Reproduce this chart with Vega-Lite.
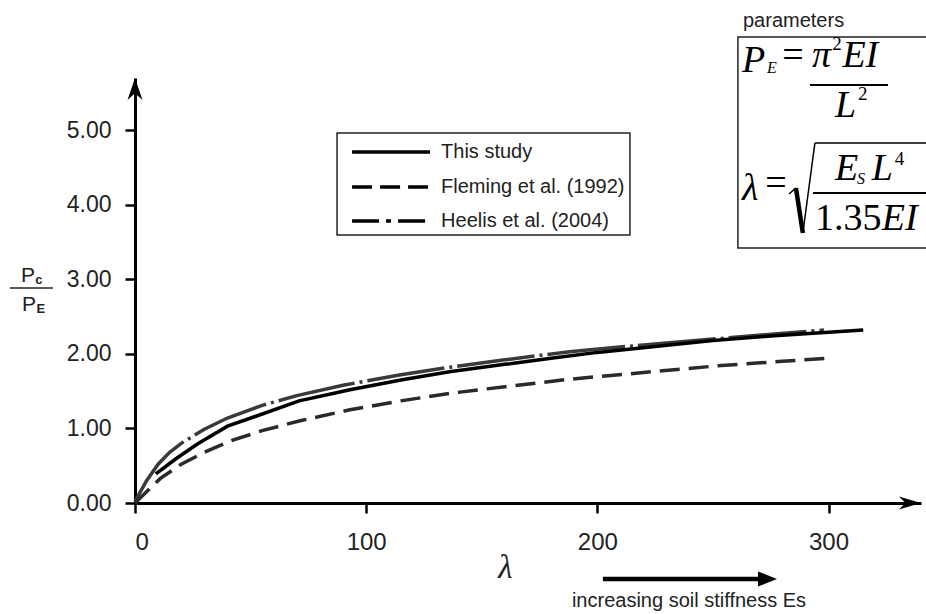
{
  "$schema": "https://vega.github.io/schema/vega-lite/v6.json",
  "width": 786,
  "height": 425,
  "autosize": {"type": "none"},
  "padding": {"left": 135, "top": 78, "right": 5, "bottom": 111},
  "background": "white",
  "config": {
    "view": {"stroke": null},
    "axis": {"grid": false, "domainColor": "#000", "domainWidth": 3, "tickColor": "#000", "tickWidth": 2.5, "tickSize": 10, "labelFont": "Liberation Sans", "labelColor": "#222"}
  },
  "datasets": {
    "curves": [
      {"series": "Heelis et al. (2004)", "lambda": 0, "ratio": 0.02},
      {"series": "Heelis et al. (2004)", "lambda": 5, "ratio": 0.3},
      {"series": "Heelis et al. (2004)", "lambda": 10, "ratio": 0.52},
      {"series": "Heelis et al. (2004)", "lambda": 15, "ratio": 0.68},
      {"series": "Heelis et al. (2004)", "lambda": 20, "ratio": 0.8},
      {"series": "Heelis et al. (2004)", "lambda": 30, "ratio": 0.99},
      {"series": "Heelis et al. (2004)", "lambda": 40, "ratio": 1.14},
      {"series": "Heelis et al. (2004)", "lambda": 55, "ratio": 1.31},
      {"series": "Heelis et al. (2004)", "lambda": 70, "ratio": 1.44},
      {"series": "Heelis et al. (2004)", "lambda": 90, "ratio": 1.58},
      {"series": "Heelis et al. (2004)", "lambda": 115, "ratio": 1.72},
      {"series": "Heelis et al. (2004)", "lambda": 136, "ratio": 1.82},
      {"series": "Heelis et al. (2004)", "lambda": 160, "ratio": 1.92},
      {"series": "Heelis et al. (2004)", "lambda": 188, "ratio": 2.03},
      {"series": "Heelis et al. (2004)", "lambda": 220, "ratio": 2.12},
      {"series": "Heelis et al. (2004)", "lambda": 258, "ratio": 2.22},
      {"series": "Heelis et al. (2004)", "lambda": 298, "ratio": 2.32},
      {"series": "Fleming et al. (1992)", "lambda": 0, "ratio": 0.0},
      {"series": "Fleming et al. (1992)", "lambda": 5, "ratio": 0.15},
      {"series": "Fleming et al. (1992)", "lambda": 11, "ratio": 0.33},
      {"series": "Fleming et al. (1992)", "lambda": 20, "ratio": 0.52},
      {"series": "Fleming et al. (1992)", "lambda": 30, "ratio": 0.68},
      {"series": "Fleming et al. (1992)", "lambda": 42, "ratio": 0.84},
      {"series": "Fleming et al. (1992)", "lambda": 55, "ratio": 0.97},
      {"series": "Fleming et al. (1992)", "lambda": 71, "ratio": 1.1},
      {"series": "Fleming et al. (1992)", "lambda": 93, "ratio": 1.25},
      {"series": "Fleming et al. (1992)", "lambda": 115, "ratio": 1.37},
      {"series": "Fleming et al. (1992)", "lambda": 136, "ratio": 1.47},
      {"series": "Fleming et al. (1992)", "lambda": 160, "ratio": 1.56},
      {"series": "Fleming et al. (1992)", "lambda": 188, "ratio": 1.66},
      {"series": "Fleming et al. (1992)", "lambda": 220, "ratio": 1.75},
      {"series": "Fleming et al. (1992)", "lambda": 252, "ratio": 1.84},
      {"series": "Fleming et al. (1992)", "lambda": 280, "ratio": 1.9},
      {"series": "Fleming et al. (1992)", "lambda": 299, "ratio": 1.94},
      {"series": "This study", "lambda": 9, "ratio": 0.39},
      {"series": "This study", "lambda": 18, "ratio": 0.6},
      {"series": "This study", "lambda": 27, "ratio": 0.79},
      {"series": "This study", "lambda": 40, "ratio": 1.03},
      {"series": "This study", "lambda": 52, "ratio": 1.16},
      {"series": "This study", "lambda": 71, "ratio": 1.37},
      {"series": "This study", "lambda": 93, "ratio": 1.52},
      {"series": "This study", "lambda": 115, "ratio": 1.65},
      {"series": "This study", "lambda": 136, "ratio": 1.76},
      {"series": "This study", "lambda": 160, "ratio": 1.86},
      {"series": "This study", "lambda": 180, "ratio": 1.94},
      {"series": "This study", "lambda": 200, "ratio": 2.02},
      {"series": "This study", "lambda": 225, "ratio": 2.1},
      {"series": "This study", "lambda": 250, "ratio": 2.18},
      {"series": "This study", "lambda": 275, "ratio": 2.24},
      {"series": "This study", "lambda": 300, "ratio": 2.29},
      {"series": "This study", "lambda": 315, "ratio": 2.32}
    ]
  },
  "layer": [
    {
      "data": {"name": "curves"},
      "transform": [{"filter": "datum.series === 'Heelis et al. (2004)'"}],
      "mark": {"type": "line", "color": "#3a3a3a", "strokeWidth": 3.5, "strokeDash": [78, 5, 3, 5]},
      "encoding": {
        "x": {"field": "lambda", "type": "quantitative", "scale": {"domain": [0, 340], "nice": false, "zero": true},
          "axis": {"values": [0, 100, 200, 300], "labelFontSize": 24, "labelPadding": 17, "title": "λ", "titleFont": "Liberation Serif", "titleFontStyle": "italic", "titleFontWeight": "normal", "titleFontSize": 33, "titleColor": "#222", "titleX": 370, "titleY": 74, "titleBaseline": "alphabetic", "titleAlign": "center"}},
        "y": {"field": "ratio", "type": "quantitative", "scale": {"domain": [0, 5.7], "nice": false},
          "axis": {"values": [0, 1, 2, 3, 4, 5], "format": ".2f", "labelFontSize": 23, "labelPadding": 14, "title": null}}
      }
    },
    {
      "data": {"name": "curves"},
      "transform": [{"filter": "datum.series === 'Fleming et al. (1992)'"}],
      "mark": {"type": "line", "color": "#2a2a2a", "strokeWidth": 3.5, "strokeDash": [20, 9]},
      "encoding": {
        "x": {"field": "lambda", "type": "quantitative"},
        "y": {"field": "ratio", "type": "quantitative"}
      }
    },
    {
      "data": {"name": "curves"},
      "transform": [{"filter": "datum.series === 'This study'"}],
      "mark": {"type": "line", "color": "#000", "strokeWidth": 3.5},
      "encoding": {
        "x": {"field": "lambda", "type": "quantitative"},
        "y": {"field": "ratio", "type": "quantitative"}
      }
    },
    {
      "data": {"values": [{}]},
      "mark": {"type": "point", "shape": "M1,0L-1,-0.6L-0.4,0L-1,0.6Z", "size": 484, "filled": true, "color": "#000", "opacity": 1},
      "encoding": {"x": {"datum": 335.2}, "y": {"datum": 0}}
    },
    {
      "data": {"values": [{}]},
      "mark": {"type": "point", "shape": "M0,-1L-0.68,1L0,0.4L0.68,1Z", "size": 484, "filled": true, "color": "#000", "opacity": 1},
      "encoding": {"x": {"datum": 0}, "y": {"datum": 5.553}}
    },
    {
      "data": {"values": [{}]},
      "mark": {"type": "text", "text": "P", "font": "Liberation Sans", "fontSize": 21, "align": "left", "baseline": "alphabetic", "color": "#222"},
      "encoding": {"x": {"datum": -49.3}, "y": {"datum": 2.964}}
    },
    {
      "data": {"values": [{}]},
      "mark": {"type": "text", "text": "c", "font": "Liberation Sans", "fontSize": 13, "fontWeight": "bold", "align": "left", "baseline": "alphabetic", "color": "#222"},
      "encoding": {"x": {"datum": -43.2}, "y": {"datum": 2.937}}
    },
    {
      "data": {"values": [{}]},
      "mark": {"type": "rule", "color": "#222", "strokeWidth": 1.5},
      "encoding": {"x": {"datum": -54.07}, "x2": {"datum": -35.47}, "y": {"datum": 2.884}}
    },
    {
      "data": {"values": [{}]},
      "mark": {"type": "text", "text": "P", "font": "Liberation Sans", "fontSize": 21, "align": "left", "baseline": "alphabetic", "color": "#222"},
      "encoding": {"x": {"datum": -48.9}, "y": {"datum": 2.575}}
    },
    {
      "data": {"values": [{}]},
      "mark": {"type": "text", "text": "E", "font": "Liberation Sans", "fontSize": 13, "fontWeight": "bold", "align": "left", "baseline": "alphabetic", "color": "#222"},
      "encoding": {"x": {"datum": -42.6}, "y": {"datum": 2.548}}
    },
    {
      "data": {"values": [{}]},
      "mark": {"type": "rect", "fill": "white", "stroke": "#222", "strokeWidth": 1.5},
      "encoding": {"x": {"datum": 87.4}, "x2": {"datum": 214.1}, "y": {"datum": 4.962}, "y2": {"datum": 3.594}}
    },
    {
      "data": {"values": [{}]},
      "mark": {"type": "rule", "color": "#000", "strokeWidth": 3.5},
      "encoding": {"x": {"datum": 93.9}, "x2": {"datum": 127.6}, "y": {"datum": 4.708}}
    },
    {
      "data": {"values": [{}]},
      "mark": {"type": "rule", "color": "#000", "strokeWidth": 3.5, "strokeDash": [20, 8]},
      "encoding": {"x": {"datum": 93.9}, "x2": {"datum": 127.6}, "y": {"datum": 4.238}}
    },
    {
      "data": {"values": [{}]},
      "mark": {"type": "rule", "color": "#000", "strokeWidth": 3.5, "strokeDash": [27, 7, 5, 7]},
      "encoding": {"x": {"datum": 93.9}, "x2": {"datum": 127.6}, "y": {"datum": 3.782}}
    },
    {
      "data": {"values": [{}]},
      "mark": {"type": "text", "text": "This study", "font": "Liberation Sans", "fontSize": 20, "align": "left", "baseline": "middle", "color": "#222"},
      "encoding": {"x": {"datum": 132.4}, "y": {"datum": 4.708}}
    },
    {
      "data": {"values": [{}]},
      "mark": {"type": "text", "text": "Fleming et al. (1992)", "font": "Liberation Sans", "fontSize": 20, "align": "left", "baseline": "middle", "color": "#222"},
      "encoding": {"x": {"datum": 132.4}, "y": {"datum": 4.238}}
    },
    {
      "data": {"values": [{}]},
      "mark": {"type": "text", "text": "Heelis et al. (2004)", "font": "Liberation Sans", "fontSize": 20, "align": "left", "baseline": "middle", "color": "#222"},
      "encoding": {"x": {"datum": 132.4}, "y": {"datum": 3.782}}
    },
    {
      "data": {"values": [{}]},
      "mark": {"type": "text", "text": "parameters", "font": "Liberation Sans", "fontSize": 20, "align": "left", "baseline": "alphabetic", "color": "#222"},
      "encoding": {"x": {"datum": 263.0}, "y": {"datum": 6.384}}
    },
    {
      "data": {"values": [{}]},
      "mark": {"type": "rect", "fill": "white", "stroke": "#222", "strokeWidth": 1.5},
      "encoding": {"x": {"datum": 260.8}, "x2": {"datum": 348.2}, "y": {"datum": 6.25}, "y2": {"datum": 3.42}}
    },
    {
      "data": {"values": [{}]},
      "mark": {"type": "text", "text": "P", "font": "Liberation Serif", "fontStyle": "italic", "fontSize": 38, "align": "left", "baseline": "alphabetic", "color": "#000"},
      "encoding": {"x": {"datum": 262.6}, "y": {"datum": 5.781}}
    },
    {
      "data": {"values": [{}]},
      "mark": {"type": "text", "text": "E", "font": "Liberation Serif", "fontStyle": "italic", "fontSize": 16, "align": "left", "baseline": "alphabetic", "color": "#000"},
      "encoding": {"x": {"datum": 273.4}, "y": {"datum": 5.767}}
    },
    {
      "data": {"values": [{}]},
      "mark": {"type": "text", "text": "=", "font": "Liberation Serif", "fontSize": 38, "align": "center", "baseline": "alphabetic", "color": "#000"},
      "encoding": {"x": {"datum": 284.6}, "y": {"datum": 5.848}}
    },
    {
      "data": {"values": [{}]},
      "mark": {"type": "text", "text": "π", "font": "Liberation Serif", "fontStyle": "italic", "fontSize": 38, "align": "left", "baseline": "alphabetic", "color": "#000"},
      "encoding": {"x": {"datum": 292.8}, "y": {"datum": 5.848}}
    },
    {
      "data": {"values": [{}]},
      "mark": {"type": "text", "text": "2", "font": "Liberation Serif", "fontSize": 19, "align": "left", "baseline": "alphabetic", "color": "#000"},
      "encoding": {"x": {"datum": 301.6}, "y": {"datum": 6.076}}
    },
    {
      "data": {"values": [{}]},
      "mark": {"type": "text", "text": "EI", "font": "Liberation Serif", "fontStyle": "italic", "fontSize": 38, "align": "left", "baseline": "alphabetic", "color": "#000"},
      "encoding": {"x": {"datum": 306.0}, "y": {"datum": 5.848}}
    },
    {
      "data": {"values": [{}]},
      "mark": {"type": "rule", "color": "#000", "strokeWidth": 2},
      "encoding": {"x": {"datum": 292.0}, "x2": {"datum": 325.7}, "y": {"datum": 5.606}}
    },
    {
      "data": {"values": [{}]},
      "mark": {"type": "text", "text": "L", "font": "Liberation Serif", "fontStyle": "italic", "fontSize": 38, "align": "left", "baseline": "alphabetic", "color": "#000"},
      "encoding": {"x": {"datum": 302.8}, "y": {"datum": 5.177}}
    },
    {
      "data": {"values": [{}]},
      "mark": {"type": "text", "text": "2", "font": "Liberation Serif", "fontSize": 19, "align": "left", "baseline": "alphabetic", "color": "#000"},
      "encoding": {"x": {"datum": 312.7}, "y": {"datum": 5.405}}
    },
    {
      "data": {"values": [{}]},
      "mark": {"type": "text", "text": "λ", "font": "Liberation Serif", "fontStyle": "italic", "fontSize": 38, "align": "left", "baseline": "alphabetic", "color": "#000"},
      "encoding": {"x": {"datum": 262.6}, "y": {"datum": 4.064}}
    },
    {
      "data": {"values": [{}]},
      "mark": {"type": "text", "text": "=", "font": "Liberation Serif", "fontSize": 38, "align": "center", "baseline": "alphabetic", "color": "#000"},
      "encoding": {"x": {"datum": 277.3}, "y": {"datum": 4.131}}
    },
    {
      "data": {"values": [{}]},
      "mark": {"type": "rule", "color": "#000", "strokeWidth": 1.5},
      "encoding": {"x": {"datum": 282.9}, "x2": {"datum": 285.9}, "y": {"datum": 4.144}, "y2": {"datum": 4.225}}
    },
    {
      "data": {"values": [{}]},
      "mark": {"type": "rule", "color": "#000", "strokeWidth": 4.5},
      "encoding": {"x": {"datum": 285.9}, "x2": {"datum": 288.9}, "y": {"datum": 4.225}, "y2": {"datum": 3.621}}
    },
    {
      "data": {"values": [{}]},
      "mark": {"type": "rule", "color": "#000", "strokeWidth": 1.5},
      "encoding": {"x": {"datum": 288.9}, "x2": {"datum": 294.1}, "y": {"datum": 3.621}, "y2": {"datum": 4.828}}
    },
    {
      "data": {"values": [{}]},
      "mark": {"type": "rule", "color": "#000", "strokeWidth": 1.5},
      "encoding": {"x": {"datum": 294.1}, "x2": {"datum": 348.2}, "y": {"datum": 4.828}}
    },
    {
      "data": {"values": [{}]},
      "mark": {"type": "text", "text": "E", "font": "Liberation Serif", "fontStyle": "italic", "fontSize": 38, "align": "left", "baseline": "alphabetic", "color": "#000"},
      "encoding": {"x": {"datum": 302.8}, "y": {"datum": 4.332}}
    },
    {
      "data": {"values": [{}]},
      "mark": {"type": "text", "text": "S", "font": "Liberation Serif", "fontStyle": "italic", "fontSize": 16, "align": "left", "baseline": "alphabetic", "color": "#000"},
      "encoding": {"x": {"datum": 312.3}, "y": {"datum": 4.278}}
    },
    {
      "data": {"values": [{}]},
      "mark": {"type": "text", "text": "L", "font": "Liberation Serif", "fontStyle": "italic", "fontSize": 38, "align": "left", "baseline": "alphabetic", "color": "#000"},
      "encoding": {"x": {"datum": 318.7}, "y": {"datum": 4.332}}
    },
    {
      "data": {"values": [{}]},
      "mark": {"type": "text", "text": "4", "font": "Liberation Serif", "fontSize": 19, "align": "left", "baseline": "alphabetic", "color": "#000"},
      "encoding": {"x": {"datum": 328.6}, "y": {"datum": 4.533}}
    },
    {
      "data": {"values": [{}]},
      "mark": {"type": "rule", "color": "#000", "strokeWidth": 2},
      "encoding": {"x": {"datum": 293.3}, "x2": {"datum": 348.2}, "y": {"datum": 4.158}}
    },
    {
      "data": {"values": [{}]},
      "mark": {"type": "text", "text": "1.35", "font": "Liberation Serif", "fontSize": 38, "align": "left", "baseline": "alphabetic", "color": "#000"},
      "encoding": {"x": {"datum": 294.1}, "y": {"datum": 3.661}}
    },
    {
      "data": {"values": [{}]},
      "mark": {"type": "text", "text": "EI", "font": "Liberation Serif", "fontStyle": "italic", "fontSize": 38, "align": "left", "baseline": "alphabetic", "color": "#000"},
      "encoding": {"x": {"datum": 323.0}, "y": {"datum": 3.661}}
    },
    {
      "data": {"values": [{}]},
      "mark": {"type": "rule", "color": "#000", "strokeWidth": 4.5},
      "encoding": {"x": {"datum": 202.4}, "x2": {"datum": 270.0}, "y": {"datum": -1.019}}
    },
    {
      "data": {"values": [{}]},
      "mark": {"type": "point", "shape": "M1,0L-1,-0.8L-1,0.8Z", "size": 361, "filled": true, "color": "#000", "opacity": 1},
      "encoding": {"x": {"datum": 273.6}, "y": {"datum": -1.019}}
    },
    {
      "data": {"values": [{}]},
      "mark": {"type": "text", "text": "increasing soil stiffness Es", "font": "Liberation Sans", "fontSize": 20, "align": "left", "baseline": "alphabetic", "color": "#222"},
      "encoding": {"x": {"datum": 189.0}, "y": {"datum": -1.395}}
    }
  ]
}
